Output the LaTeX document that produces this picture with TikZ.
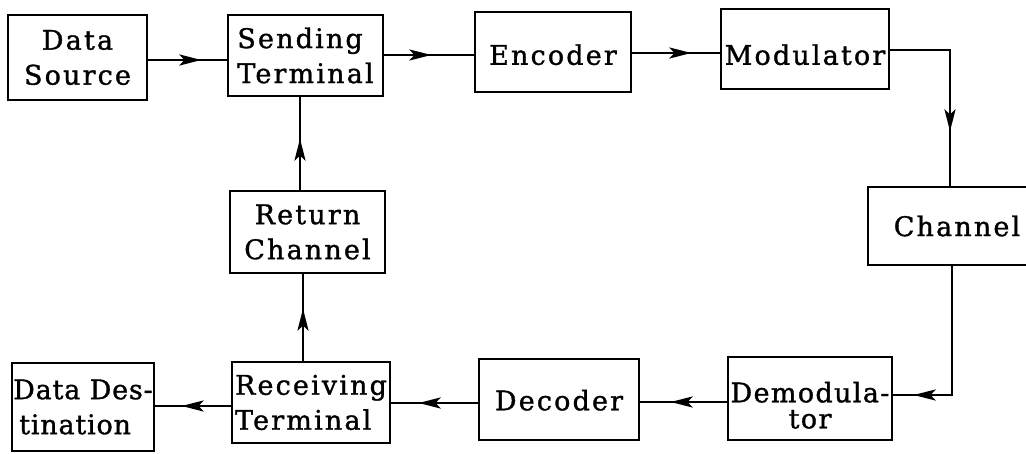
\documentclass[tikz,border=0pt]{standalone}
\usepackage{fontspec}
\setmainfont{DejaVu Serif}[LetterSpace=8,FakeBold=1.2]
\usetikzlibrary{arrows.meta,decorations.markings}
\newcommand{\lowtext}[2]{\raisebox{#1}[0pt][0pt]{\begin{tabular}{@{}c@{}}#2\end{tabular}}}
\tikzset{
  box/.style={draw, line width=2.8pt, rectangle, inner xsep=0pt, inner ysep=2pt, align=center,
    font=\fontsize{27}{35}\selectfont},
  tipshape/.tip={Stealth[length=22pt,width=11pt,inset=5pt]},
  flow/.style={draw, line width=2.6pt, postaction={decorate},
    decoration={markings, mark=at position #1 with {\arrow{tipshape}}}},
  flow/.default=0.6
}
\begin{document}
\begin{tikzpicture}[x=1pt,y=-1pt]
\useasboundingbox (0,0) rectangle (1026,454);
\fill[white] (0,0) rectangle (1026,454);
% nodes
\node[box, minimum width=139pt, minimum height=85pt] (src) at (77.5,57.5) {Data\\Source};
\node[box, minimum width=155pt, minimum height=81pt, align=left] (send) at (305.5,55.5) {Sending\\Terminal};
\node[box, minimum width=156pt, minimum height=80pt] (enc) at (553,52) {\lowtext{-12pt}{Encoder}};
\node[box, minimum width=168pt, minimum height=80pt] (mod) at (805,49) {\lowtext{-15pt}{Modulator}};
\node[box, minimum width=170pt, minimum height=78pt] (chan) at (953,226) {\hspace*{8pt}Channel};
\node[box, minimum width=155pt, minimum height=82pt] (ret) at (307.5,232) {Return\\Channel};
\node[box, minimum width=142pt, minimum height=88pt, align=left] (dest) at (83,407) {\addfontfeature{LetterSpace=3}Data Des-\\\hspace*{6pt}\addfontfeature{LetterSpace=3}tination};
\node[box, minimum width=158pt, minimum height=81pt, align=left] (recv) at (311,402.5) {Receiving\\Terminal};
\node[box, minimum width=160pt, minimum height=81pt] (dec) at (559,399.5) {\lowtext{-10pt}{Decoder}};
\node[box, minimum width=164pt, minimum height=83pt] (demod) at (810,398.5) {\lowtext{-16pt}{\addfontfeature{LetterSpace=5}Demodula-\\[-9pt]\addfontfeature{LetterSpace=5}tor}};
% connectors
\draw[flow=53pt] (src.east |- 0,60) -- (send.west |- 0,60);
\draw[flow=47pt] (send.east |- 0,55) -- (enc.west |- 0,55);
\draw[flow=59pt] (enc.east |- 0,53) -- (mod.west |- 0,53);
\draw[flow=141pt] (mod.east |- 0,50) -| (chan.north -| 950,0);
\draw[flow=167pt] (chan.south -| 952,0) |- (demod.east |- 0,395);
\draw[flow=56pt] (demod.west |- 0,402) -- (dec.east |- 0,402);
\draw[flow=59pt] (dec.west |- 0,403) -- (recv.east |- 0,403);
\draw[flow=49pt] (recv.west |- 0,406) -- (dest.east |- 0,406);
\draw[flow=52pt] (recv.north -| 303,0) -- (ret.south -| 303,0);
\draw[flow=51pt] (ret.north -| 300,0) -- (send.south -| 300,0);
\end{tikzpicture}
\end{document}
